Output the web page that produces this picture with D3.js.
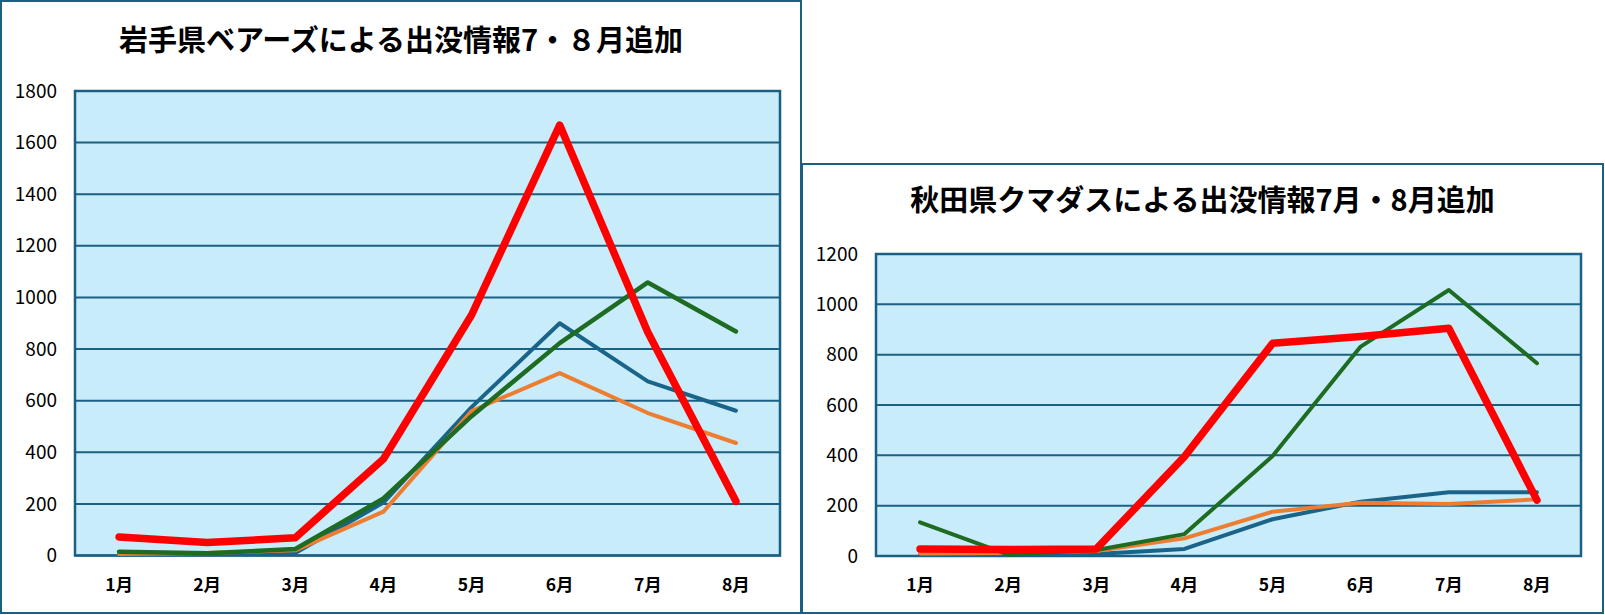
<!DOCTYPE html>
<html>
<head>
<meta charset="utf-8">
<script src="https://cdn.jsdelivr.net/npm/d3@7"></script>
<style>
  body { margin: 0; background: #fff; }
  svg { display: block; font-family: "Noto Sans CJK JP", "Noto Sans", sans-serif; }
</style>
</head>
<body>
<svg id="chart" width="1605" height="615"></svg>
<script>
const months = ["1月", "2月", "3月", "4月", "5月", "6月", "7月", "8月"];

// 岩手県
const iwateTitle = "岩手県ベアーズによる出没情報7・８月追加";
const iwateTicks = [0, 200, 400, 600, 800, 1000, 1200, 1400, 1600, 1800];
const iwateBlue = [4, 6, 10, 205, 575, 900, 675, 561];
const iwateOrange = [6, 10, 20, 170, 560, 707, 552, 436];
const iwateGreen = [15, 9, 25, 221, 540, 823, 1058, 868];
const iwateRed = [72, 50, 69, 374, 932, 1668, 865, 210];

// 秋田県
const akitaTitle = "秋田県クマダスによる出没情報7月・8月追加";
const akitaTicks = [0, 200, 400, 600, 800, 1000, 1200];
const akitaBlue = [4, 5, 8, 28, 146, 216, 253, 253];
const akitaOrange = [10, 12, 20, 70, 176, 212, 207, 225];
const akitaGreen = [134, 5, 24, 87, 397, 832, 1057, 766];
const akitaRed = [28, 26, 28, 395, 845, 872, 905, 222];

const svg = d3.select("#chart");
const edge = "#1b5f82";

function drawPanel(p) {
    // panel frame
    svg.append("rect")
        .attr("x", p.bx).attr("y", p.by)
        .attr("width", p.bw).attr("height", p.bh)
        .attr("fill", "#fff")
        .attr("stroke", edge)
        .attr("stroke-width", 2);

    svg.append("text")
        .attr("x", p.bx + p.bw / 2)
        .attr("y", p.titleY)
        .attr("dy", "0.35em")
        .attr("text-anchor", "middle")
        .style("font-size", "29px")
        .style("font-weight", "bold")
        .text(p.title);

    const x = d3.scalePoint().domain(months).range([p.left, p.right]).padding(0.5);
    const y = d3.scaleLinear().domain([0, d3.max(p.ticks)]).range([p.bottom, p.top]);

    svg.append("rect")
        .attr("x", p.left).attr("y", p.top)
        .attr("width", p.right - p.left).attr("height", p.bottom - p.top)
        .attr("fill", "#c9ecfa");

    // grid
    svg.append("g")
        .selectAll("line")
        .data(p.ticks)
        .join("line")
        .attr("x1", p.left).attr("x2", p.right)
        .attr("y1", d => y(d)).attr("y2", d => y(d))
        .attr("stroke", edge)
        .attr("stroke-width", 2);

    svg.append("rect")
        .attr("x", p.left).attr("y", p.top)
        .attr("width", p.right - p.left).attr("height", p.bottom - p.top)
        .attr("fill", "none")
        .attr("stroke", edge)
        .attr("stroke-width", 2.5);

    // y labels
    svg.append("g")
        .selectAll("text")
        .data(p.ticks)
        .join("text")
        .attr("x", p.left - 18)
        .attr("y", d => y(d))
        .attr("dy", "0.35em")
        .attr("text-anchor", "end")
        .style("font-size", "19px")
        .text(d => d);

    // x labels
    svg.append("g")
        .selectAll("text")
        .data(months)
        .join("text")
        .attr("x", d => x(d))
        .attr("y", 585)
        .attr("dy", "0.35em")
        .attr("text-anchor", "middle")
        .style("font-size", "17.5px")
        .style("font-weight", "bold")
        .text(d => d);

    const line = d3.line()
        .x((d, i) => x(months[i]))
        .y(d => y(d));

    p.series.forEach(s => {
        svg.append("path")
            .datum(s.values)
            .attr("d", line)
            .attr("fill", "none")
            .attr("stroke", s.color)
            .attr("stroke-width", s.width)
            .attr("stroke-linejoin", "round")
            .attr("stroke-linecap", "round");
    });
}

drawPanel({
    bx: 1, by: 1, bw: 800, bh: 612,
    titleY: 41,
    left: 75, right: 780, top: 91, bottom: 555.5,
    ticks: iwateTicks,
    title: iwateTitle,
    series: [
        { values: iwateBlue, color: "#1a6389", width: 4 },
        { values: iwateOrange, color: "#ed7d31", width: 4 },
        { values: iwateGreen, color: "#1e6b22", width: 4.5 },
        { values: iwateRed, color: "#ff0000", width: 7.5 }
    ]
});

drawPanel({
    bx: 802, by: 164, bw: 801, bh: 449,
    titleY: 201,
    left: 876, right: 1581, top: 254, bottom: 556,
    ticks: akitaTicks,
    title: akitaTitle,
    series: [
        { values: akitaBlue, color: "#1a6389", width: 4 },
        { values: akitaOrange, color: "#ed7d31", width: 4 },
        { values: akitaGreen, color: "#1e6b22", width: 4 },
        { values: akitaRed, color: "#ff0000", width: 7.5 }
    ]
});
</script>
</body>
</html>
